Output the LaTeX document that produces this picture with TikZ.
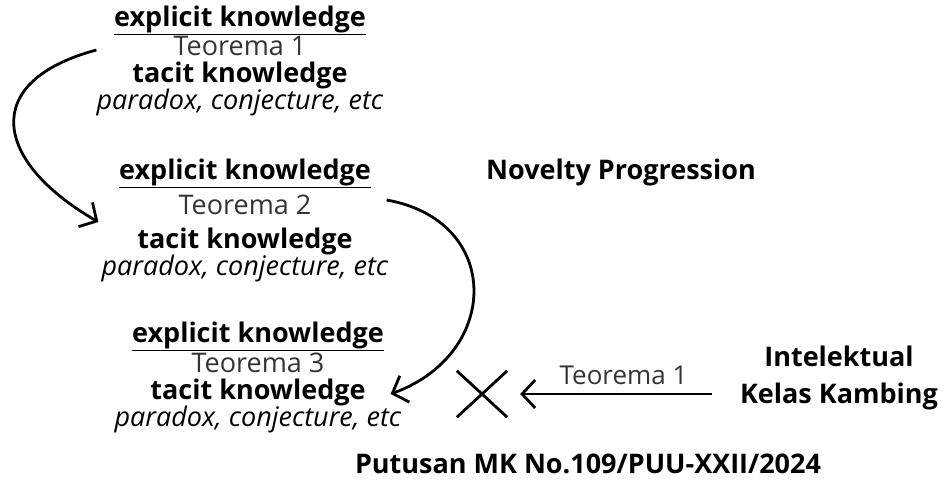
\documentclass[tikz,border=0pt]{standalone}
\usepackage{fontspec}
\setmainfont{Open Sans}
\usepackage{tikz}
\usetikzlibrary{arrows.meta, positioning}

\begin{document}
\begin{tikzpicture}[x=1pt, y=1pt,
    blok/.style={align=center, inner sep=0pt, font=\fontsize{27}{27}\selectfont},
    judul/.style={align=center, inner sep=0pt, font=\fontsize{27}{27}\selectfont\bfseries},
    tipis/.style={text=black!80},
    panah/.style={draw, line width=2.8pt, -{Straight Barb[length=13pt, width=28pt, line width=2.8pt]}},
    silang/.style={draw, line width=2.8pt}
]
    \useasboundingbox (0,0) rectangle (949,-480);

    \node[blok] (teo1) at (240,-61)  {\textbf{\underline{explicit knowledge}}\\ {\color{black!80}Teorema 1}\\ \textbf{tacit knowledge}\\ \textit{paradox, conjecture, etc}};
    \node[blok] (teo2) at (245,-220) {\textbf{\underline{explicit knowledge}}\\[6pt] {\color{black!80}Teorema 2}\\[7pt] \textbf{tacit knowledge}\\ \textit{paradox, conjecture, etc}};
    \node[blok] (teo3) at (258,-377) {\textbf{\underline{explicit knowledge}}\\[1pt] {\color{black!80}Teorema 3}\\ \textbf{tacit knowledge}\\ \textit{paradox, conjecture, etc}};

    \node[judul] (novelty) at (621,-172) {Novelty Progression};
    \node[judul] (kambing) at (839,-378) {Intelektual\\[10pt] Kelas Kambing};
    \node[judul] (putusan) at (588,-464) {Putusan MK No.109/PUU-XXII/2024};

    \node[minimum width=50pt, minimum height=46pt, inner sep=0pt] (silang) at (482,-394) {};
    \draw[silang] (silang.north west) -- (silang.south east);
    \draw[silang] (silang.north east) -- (silang.south west);

    \draw[panah] ([yshift=11pt]teo1.west) to[out=195, in=150, looseness=1.8] ([yshift=-2pt, xshift=-3pt]teo2.west);
    \draw[panah] ([yshift=20pt, xshift=-2pt]teo2.east) to[out=-10, in=20, looseness=1.55] ([yshift=-17pt, xshift=-11pt]teo3.east);
    \draw[panah, shorten <=28pt, shorten >=13pt] ([yshift=-16pt]kambing.west) -- node[blok, tipis, font=\fontsize{26}{26}\selectfont, above=8pt] (label) {Teorema 1} (silang.east);
\end{tikzpicture}
\end{document}
